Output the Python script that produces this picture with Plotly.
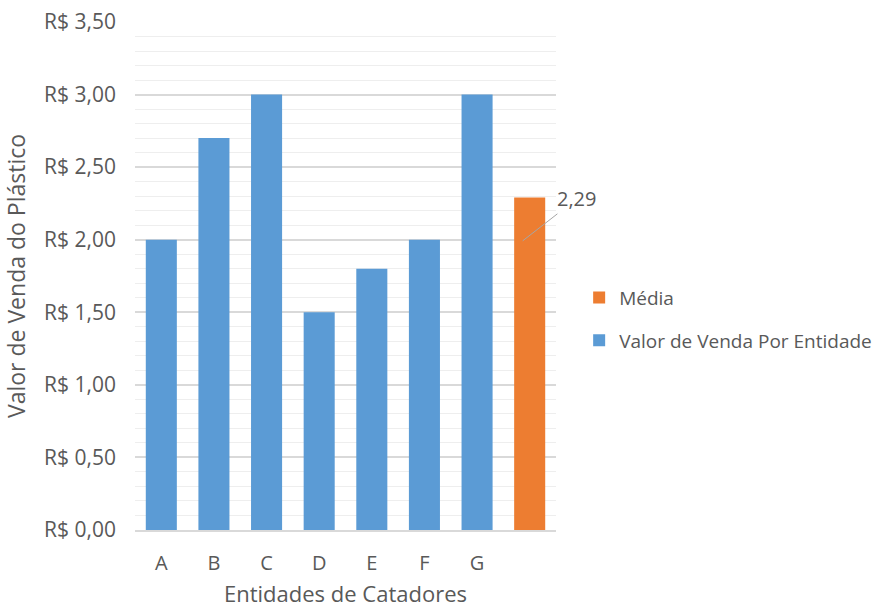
import plotly.graph_objects as go

# Sale value of plastic per waste-picker entity (R$/kg)
entidades = ["A", "B", "C", "D", "E", "F", "G"]
valores = [2.00, 2.70, 3.00, 1.50, 1.80, 2.00, 3.00]

# Average of all entities, shown as an extra bar
media_categoria = [" "]
media_valor = [round(sum(valores) / len(valores), 2)]

y_ticks = [0, 0.5, 1.0, 1.5, 2.0, 2.5, 3.0, 3.5]
y_tick_labels = ["R$ 0,00", "R$ 0,50", "R$ 1,00", "R$ 1,50",
                 "R$ 2,00", "R$ 2,50", "R$ 3,00", "R$ 3,50"]

AZUL = "#5b9bd5"
LARANJA = "#ed7d31"
TEXTO = "#595959"
FONTE = "Open Sans, Liberation Sans, sans-serif"

fig = go.Figure()

fig.add_trace(go.Bar(
    x=entidades, y=valores, name="Valor de Venda Por Entidade",
    marker=dict(color=AZUL, line=dict(width=0)),
    legendrank=2, legendgroup="v",
))
fig.add_trace(go.Bar(
    x=media_categoria, y=media_valor, name="Média",
    marker=dict(color=LARANJA, line=dict(width=0)),
    legendrank=1, legendgroup="m",
))

# Data label for the average with a short leader line
fig.add_annotation(
    x=media_categoria[0], y=media_valor[0] * 0.87,
    xshift=-7,
    text=f"{media_valor[0]:.2f}".replace(".", ","),
    showarrow=True, arrowhead=0, arrowwidth=1, arrowcolor="#a6a6a6",
    ax=54, ay=-42, xanchor="center", yanchor="middle",
    font=dict(family=FONTE, size=20, color=TEXTO),
)

fig.update_layout(
    width=887, height=608,
    margin=dict(l=135, r=331, t=22, b=78, autoexpand=False),
    paper_bgcolor="white", plot_bgcolor="white",
    barmode="overlay", bargap=0.41,
    font=dict(family=FONTE, size=20, color=TEXTO),
    showlegend=True,
    legend=dict(
        x=1.055, y=0.415, xanchor="left", yanchor="middle",
        traceorder="grouped", tracegroupgap=15,
        font=dict(family=FONTE, size=19, color=TEXTO),
        itemwidth=30,
    ),
    xaxis=dict(
        categoryorder="array", categoryarray=entidades + media_categoria,
        showgrid=False, showline=True, linecolor="#d9d9d9", linewidth=2,
        ticks="", ticklabelstandoff=14, automargin=False,
        tickfont=dict(family=FONTE, size=20, color=TEXTO),
        title=dict(text="Entidades de Catadores", standoff=12,
                   font=dict(family=FONTE, size=22, color=TEXTO)),
        range=[-0.5, 7.5],
    ),
    yaxis=dict(
        range=[0, 3.5], tickvals=y_ticks, ticktext=y_tick_labels,
        showgrid=True, gridcolor="#d9d9d9", gridwidth=1.5,
        zeroline=False, showline=False, ticks="", ticklabelstandoff=18,
        automargin=False,
        minor=dict(dtick=0.1, showgrid=True, gridcolor="#eeeeee", gridwidth=1),
        tickfont=dict(family=FONTE, size=21, color=TEXTO),
        title=dict(text="Valor de Venda do Plástico", standoff=12,
                   font=dict(family=FONTE, size=23, color=TEXTO)),
    ),
)

fig.write_html("out.html")
